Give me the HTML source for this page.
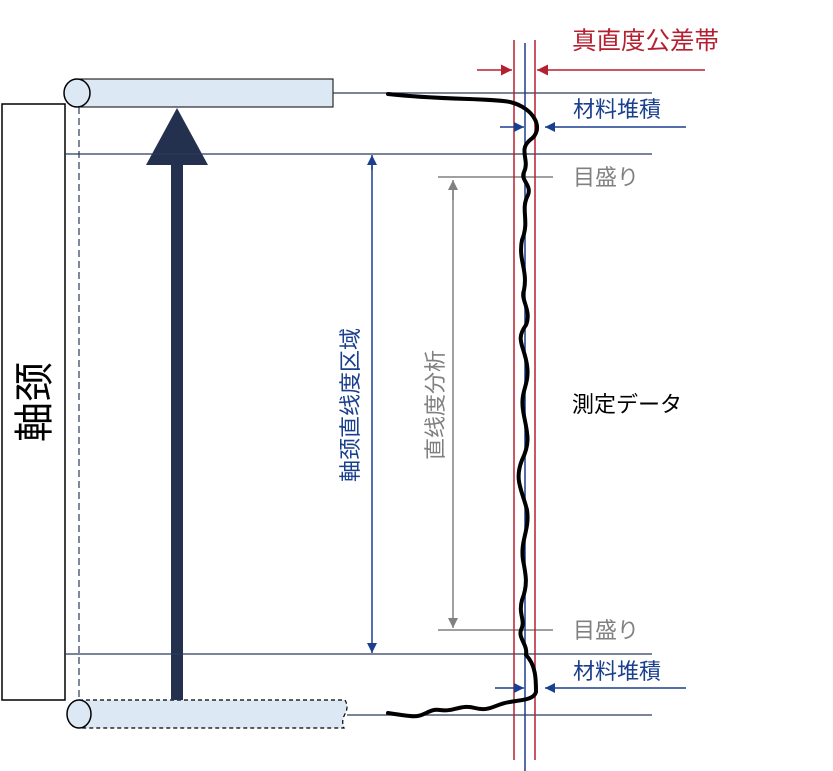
<!DOCTYPE html>
<html><head><meta charset="utf-8"><style>html,body{margin:0;padding:0;background:#fff}svg{display:block}</style></head>
<body>
<svg width="833" height="771" viewBox="0 0 833 771" xmlns="http://www.w3.org/2000/svg" font-family="'Liberation Sans','Noto Sans CJK JP',sans-serif">
<defs>
<marker id="ar" viewBox="0 0 10 10" refX="10" refY="5" markerWidth="11" markerHeight="11" markerUnits="userSpaceOnUse" orient="auto"><path d="M0,0L10,5L0,10z" fill="#b52030"/></marker>
<marker id="ab" viewBox="0 0 10 10" refX="10" refY="5" markerWidth="10" markerHeight="10" markerUnits="userSpaceOnUse" orient="auto"><path d="M0,0L10,5L0,10z" fill="#1a3f8f"/></marker>
<marker id="ag" viewBox="0 0 10 10" refX="10" refY="5" markerWidth="10" markerHeight="10" markerUnits="userSpaceOnUse" orient="auto"><path d="M0,0L10,5L0,10z" fill="#808080"/></marker>
</defs>
<rect x="2" y="104" width="63" height="596" fill="#fff" stroke="#000" stroke-width="1.5"/>
<text x="0" y="0" transform="translate(48,402) rotate(-90)" font-size="40" text-anchor="middle" fill="#000">軸颈</text>
<line x1="79" y1="107" x2="79" y2="700" stroke="#2a3a5a" stroke-width="1.2" stroke-dasharray="7,4"/>
<rect x="77" y="79" width="256" height="28" fill="#dde8f5" stroke="#000" stroke-width="1"/>
<ellipse cx="77" cy="93" rx="13" ry="14" fill="#dde8f5" stroke="#000" stroke-width="1.5"/>
<path d="M79,700 H345 Q349,707 345,714 Q341,721 344,728 H79" fill="#dde8f5" stroke="#000" stroke-width="1.2" stroke-dasharray="4,3"/>
<ellipse cx="79" cy="714" rx="12" ry="14" fill="#dde8f5" stroke="#000" stroke-width="1.5"/>
<rect x="171" y="160" width="12" height="540" fill="#23314f"/>
<polygon points="146,165 208,165 177,108" fill="#23314f"/>
<g stroke="#2a3a5a" stroke-width="1.3">
<line x1="333" y1="93" x2="652" y2="93"/>
<line x1="65" y1="154" x2="652" y2="154"/>
<line x1="65" y1="654" x2="652" y2="654"/>
<line x1="347" y1="715" x2="652" y2="715"/>
</g>
<line x1="438" y1="177" x2="553" y2="177" stroke="#808080" stroke-width="1.5"/>
<line x1="438" y1="630" x2="553" y2="630" stroke="#808080" stroke-width="1.5"/>
<text x="573" y="185" font-size="22" fill="#808080">目盛り</text>
<text x="573" y="638" font-size="22" fill="#808080">目盛り</text>
<line x1="453" y1="200" x2="453" y2="180" stroke="#808080" stroke-width="1.5" marker-end="url(#ag)"/>
<line x1="453" y1="190" x2="453" y2="628" stroke="#808080" stroke-width="1.5" marker-end="url(#ag)"/>
<line x1="372" y1="170" x2="372" y2="155" stroke="#1a3f8f" stroke-width="1.5" marker-end="url(#ab)"/>
<line x1="372" y1="165" x2="372" y2="653" stroke="#1a3f8f" stroke-width="1.5" marker-end="url(#ab)"/>
<text transform="translate(358,405) rotate(-90)" font-size="22" text-anchor="middle" fill="#1a3f8f">軸颈直线度区域</text>
<text transform="translate(443,405) rotate(-90)" font-size="22" text-anchor="middle" fill="#808080">直线度分析</text>
<line x1="514" y1="40" x2="514" y2="760" stroke="#b52030" stroke-width="1.5"/>
<line x1="535" y1="40" x2="535" y2="760" stroke="#b52030" stroke-width="1.5"/>
<line x1="525" y1="43" x2="525" y2="771" stroke="#1a3f8f" stroke-width="1.5"/>
<line x1="477" y1="70" x2="512" y2="70" stroke="#b52030" stroke-width="1.5" marker-end="url(#ar)"/>
<line x1="705" y1="70" x2="537" y2="70" stroke="#b52030" stroke-width="1.5" marker-end="url(#ar)"/>
<text x="572" y="49" font-size="24.5" fill="#b52030">真直度公差帯</text>
<line x1="500" y1="127" x2="524" y2="127" stroke="#1a3f8f" stroke-width="1.5" marker-end="url(#ab)"/>
<line x1="686" y1="127" x2="545" y2="127" stroke="#1a3f8f" stroke-width="1.5" marker-end="url(#ab)"/>
<text x="573" y="117" font-size="22" fill="#1a3f8f">材料堆積</text>
<line x1="495" y1="688" x2="524" y2="688" stroke="#1a3f8f" stroke-width="1.5" marker-end="url(#ab)"/>
<line x1="686" y1="688" x2="545" y2="688" stroke="#1a3f8f" stroke-width="1.5" marker-end="url(#ab)"/>
<text x="573" y="679" font-size="22" fill="#1a3f8f">材料堆積</text>
<text x="572" y="412" font-size="22" fill="#000">測定データ</text>
<path d="M388,94 C440,100 490,98 510,102 C535,108 545,130 530,140 C518,150 530,160 524,172 C520,180 532,185 528,195 C520,210 530,220 522,240 C518,260 528,270 524,290 C520,300 532,310 526,325 C515,340 524,345 527,365 C530,385 520,390 523,410 C526,430 532,440 522,460 C514,480 522,490 527,510 C530,530 520,540 523,560 C526,575 528,585 522,600 C518,615 526,620 521,630 C518,638 528,645 526,655 C536,665 536,680 536,692 C534,700 520,700 510,702 C495,704 490,712 475,708 C460,704 455,712 440,710 C428,708 425,718 410,716 C400,715 395,714 388,713" fill="none" stroke="#000" stroke-width="4" stroke-linecap="round" stroke-linejoin="round"/>
</svg>
</body></html>
